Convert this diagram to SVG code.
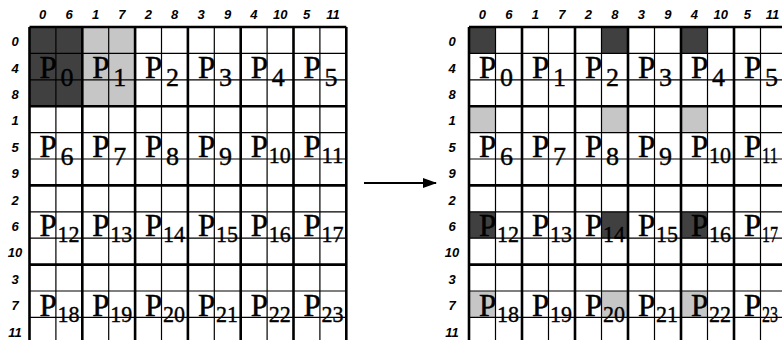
<svg xmlns="http://www.w3.org/2000/svg" width="782" height="340" viewBox="0 0 782 340">
<defs>
<style>
.thin{stroke:#000;stroke-width:1.2;fill:none}
.thick{stroke:#000;stroke-width:2.6;fill:none}
.lab{font-family:"Liberation Sans",Arial,sans-serif;font-weight:bold;font-style:italic;font-size:13px;text-anchor:middle;fill:#000}
.p{font-family:"Liberation Serif","Times New Roman",serif;font-size:31px;fill:#000;stroke:#000;stroke-width:0.5}
.s{font-family:"Liberation Serif","Times New Roman",serif;font-size:26px;fill:#000;stroke:#000;stroke-width:0.4}
.s2{font-family:"Liberation Serif","Times New Roman",serif;font-size:24px;fill:#000;stroke:#000;stroke-width:0.4}
.dark{fill:#404040}
.light{fill:#c6c6c6}
</style>
<marker id="ah" markerWidth="14" markerHeight="10" refX="13" refY="5" orient="auto" markerUnits="userSpaceOnUse">
<path d="M0,0 L14,5 L0,10 Z" fill="#000"/>
</marker>
</defs>
<rect width="782" height="340" fill="#fff"/>

<!-- Left grid -->
<g id="left-grid">
<rect class="dark" x="29.5" y="27" width="52.8" height="79.2"/>
<rect class="light" x="82.3" y="27" width="52.8" height="79.2"/>
<path class="thin" d="M55.9,27V340M108.7,27V340M161.5,27V340M214.3,27V340M267.1,27V340M319.9,27V340M29.5,53.4H346.3M29.5,79.8H346.3M29.5,132.6H346.3M29.5,159H346.3M29.5,211.8H346.3M29.5,238.2H346.3M29.5,291H346.3M29.5,317.4H346.3"/>
<path class="thick" d="M29.5,27V340M82.3,27V340M135.1,27V340M187.9,27V340M240.7,27V340M293.5,27V340M346.3,27V340M29.5,27H346.3M29.5,106.2H346.3M29.5,185.4H346.3M29.5,264.6H346.3"/>
<g id="left-col-labels">
<text class="lab" x="42.7" y="19">0</text><text class="lab" x="69.1" y="19">6</text><text class="lab" x="95.5" y="19">1</text><text class="lab" x="121.9" y="19">7</text><text class="lab" x="148.3" y="19">2</text><text class="lab" x="174.7" y="19">8</text><text class="lab" x="201.1" y="19">3</text><text class="lab" x="227.5" y="19">9</text><text class="lab" x="253.9" y="19">4</text><text class="lab" x="280.3" y="19">10</text><text class="lab" x="306.7" y="19">5</text><text class="lab" x="333.1" y="19">11</text>
</g>
<g id="left-row-labels">
<text class="lab" x="15" y="46.2">0</text><text class="lab" x="15" y="72.6">4</text><text class="lab" x="15" y="99">8</text><text class="lab" x="15" y="125.4">1</text><text class="lab" x="15" y="151.8">5</text><text class="lab" x="15" y="178.2">9</text><text class="lab" x="15" y="204.6">2</text><text class="lab" x="15" y="231">6</text><text class="lab" x="15" y="257.4">10</text><text class="lab" x="15" y="283.8">3</text><text class="lab" x="15" y="310.2">7</text><text class="lab" x="15" y="336.6">11</text>
</g>
<g id="L-P0"><text class="p" x="39.5" y="78">P</text><text class="s" x="60.5" y="86">0</text></g>
<g id="L-P1"><text class="p" x="92.3" y="78">P</text><text class="s" x="113.3" y="86">1</text></g>
<g id="L-P2"><text class="p" x="145.1" y="78">P</text><text class="s" x="166.1" y="86">2</text></g>
<g id="L-P3"><text class="p" x="197.9" y="78">P</text><text class="s" x="218.9" y="86">3</text></g>
<g id="L-P4"><text class="p" x="250.7" y="78">P</text><text class="s" x="271.7" y="86">4</text></g>
<g id="L-P5"><text class="p" x="303.5" y="78">P</text><text class="s" x="324.5" y="86">5</text></g>
<g id="L-P6"><text class="p" x="39.5" y="157.2">P</text><text class="s" x="60.5" y="165.2">6</text></g>
<g id="L-P7"><text class="p" x="92.3" y="157.2">P</text><text class="s" x="113.3" y="165.2">7</text></g>
<g id="L-P8"><text class="p" x="145.1" y="157.2">P</text><text class="s" x="166.1" y="165.2">8</text></g>
<g id="L-P9"><text class="p" x="197.9" y="157.2">P</text><text class="s" x="218.9" y="165.2">9</text></g>
<g id="L-P10"><text class="p" x="250.7" y="157.2">P</text><text class="s2" x="268.7" y="163.2" textLength="22" lengthAdjust="spacingAndGlyphs">10</text></g>
<g id="L-P11"><text class="p" x="303.5" y="157.2">P</text><text class="s2" x="321.5" y="163.2" textLength="22" lengthAdjust="spacingAndGlyphs">11</text></g>
<g id="L-P12"><text class="p" x="39.5" y="236.4">P</text><text class="s2" x="57.5" y="242.4" textLength="22" lengthAdjust="spacingAndGlyphs">12</text></g>
<g id="L-P13"><text class="p" x="92.3" y="236.4">P</text><text class="s2" x="110.3" y="242.4" textLength="22" lengthAdjust="spacingAndGlyphs">13</text></g>
<g id="L-P14"><text class="p" x="145.1" y="236.4">P</text><text class="s2" x="163.1" y="242.4" textLength="22" lengthAdjust="spacingAndGlyphs">14</text></g>
<g id="L-P15"><text class="p" x="197.9" y="236.4">P</text><text class="s2" x="215.9" y="242.4" textLength="22" lengthAdjust="spacingAndGlyphs">15</text></g>
<g id="L-P16"><text class="p" x="250.7" y="236.4">P</text><text class="s2" x="268.7" y="242.4" textLength="22" lengthAdjust="spacingAndGlyphs">16</text></g>
<g id="L-P17"><text class="p" x="303.5" y="236.4">P</text><text class="s2" x="321.5" y="242.4" textLength="22" lengthAdjust="spacingAndGlyphs">17</text></g>
<g id="L-P18"><text class="p" x="39.5" y="315.6">P</text><text class="s2" x="57.5" y="321.6" textLength="22" lengthAdjust="spacingAndGlyphs">18</text></g>
<g id="L-P19"><text class="p" x="92.3" y="315.6">P</text><text class="s2" x="110.3" y="321.6" textLength="22" lengthAdjust="spacingAndGlyphs">19</text></g>
<g id="L-P20"><text class="p" x="145.1" y="315.6">P</text><text class="s2" x="163.1" y="321.6" textLength="22" lengthAdjust="spacingAndGlyphs">20</text></g>
<g id="L-P21"><text class="p" x="197.9" y="315.6">P</text><text class="s2" x="215.9" y="321.6" textLength="22" lengthAdjust="spacingAndGlyphs">21</text></g>
<g id="L-P22"><text class="p" x="250.7" y="315.6">P</text><text class="s2" x="268.7" y="321.6" textLength="22" lengthAdjust="spacingAndGlyphs">22</text></g>
<g id="L-P23"><text class="p" x="303.5" y="315.6">P</text><text class="s2" x="321.5" y="321.6" textLength="22" lengthAdjust="spacingAndGlyphs">23</text></g>
</g>

<!-- Connector -->
<g id="connectors">
<line x1="364" y1="183" x2="436" y2="183" stroke="#000" stroke-width="2" marker-end="url(#ah)"/>
</g>

<!-- Right grid -->
<g id="right-grid">
<rect class="dark" x="469" y="27" width="26.5" height="26.4"/>
<rect class="dark" x="601.5" y="27" width="26.5" height="26.4"/>
<rect class="dark" x="681" y="27" width="26.5" height="26.4"/>
<rect class="light" x="469" y="106.2" width="26.5" height="26.4"/>
<rect class="light" x="601.5" y="106.2" width="26.5" height="26.4"/>
<rect class="light" x="681" y="106.2" width="26.5" height="26.4"/>
<rect class="dark" x="469" y="211.8" width="26.5" height="26.4"/>
<rect class="dark" x="601.5" y="211.8" width="26.5" height="26.4"/>
<rect class="dark" x="681" y="211.8" width="26.5" height="26.4"/>
<rect class="light" x="469" y="291" width="26.5" height="26.4"/>
<rect class="light" x="601.5" y="291" width="26.5" height="26.4"/>
<rect class="light" x="681" y="291" width="26.5" height="26.4"/>
<path class="thin" d="M495.5,27V340M548.5,27V340M601.5,27V340M654.5,27V340M707.5,27V340M760.5,27V340M469,53.4H787M469,79.8H787M469,132.6H787M469,159H787M469,211.8H787M469,238.2H787M469,291H787M469,317.4H787"/>
<path class="thick" d="M469,27V340M522,27V340M575,27V340M628,27V340M681,27V340M734,27V340M469,27H787M469,106.2H787M469,185.4H787M469,264.6H787"/>
<g id="right-col-labels">
<text class="lab" x="482.25" y="19">0</text><text class="lab" x="508.75" y="19">6</text><text class="lab" x="535.25" y="19">1</text><text class="lab" x="561.75" y="19">7</text><text class="lab" x="588.25" y="19">2</text><text class="lab" x="614.75" y="19">8</text><text class="lab" x="641.25" y="19">3</text><text class="lab" x="667.75" y="19">9</text><text class="lab" x="694.25" y="19">4</text><text class="lab" x="720.75" y="19">10</text><text class="lab" x="747.25" y="19">5</text><text class="lab" x="772.5" y="19">11</text>
</g>
<g id="right-row-labels">
<text class="lab" x="452" y="46.2">0</text><text class="lab" x="452" y="72.6">4</text><text class="lab" x="452" y="99">8</text><text class="lab" x="452" y="125.4">1</text><text class="lab" x="452" y="151.8">5</text><text class="lab" x="452" y="178.2">9</text><text class="lab" x="452" y="204.6">2</text><text class="lab" x="452" y="231">6</text><text class="lab" x="452" y="257.4">10</text><text class="lab" x="452" y="283.8">3</text><text class="lab" x="452" y="310.2">7</text><text class="lab" x="452" y="336.6">11</text>
</g>
<g id="R-P0"><text class="p" x="479" y="78">P</text><text class="s" x="500" y="86">0</text></g>
<g id="R-P1"><text class="p" x="532" y="78">P</text><text class="s" x="553" y="86">1</text></g>
<g id="R-P2"><text class="p" x="585" y="78">P</text><text class="s" x="606" y="86">2</text></g>
<g id="R-P3"><text class="p" x="638" y="78">P</text><text class="s" x="659" y="86">3</text></g>
<g id="R-P4"><text class="p" x="691" y="78">P</text><text class="s" x="712" y="86">4</text></g>
<g id="R-P5"><text class="p" x="744" y="78">P</text><text class="s" x="765" y="86">5</text></g>
<g id="R-P6"><text class="p" x="479" y="157.2">P</text><text class="s" x="500" y="165.2">6</text></g>
<g id="R-P7"><text class="p" x="532" y="157.2">P</text><text class="s" x="553" y="165.2">7</text></g>
<g id="R-P8"><text class="p" x="585" y="157.2">P</text><text class="s" x="606" y="165.2">8</text></g>
<g id="R-P9"><text class="p" x="638" y="157.2">P</text><text class="s" x="659" y="165.2">9</text></g>
<g id="R-P10"><text class="p" x="691" y="157.2">P</text><text class="s2" x="709" y="163.2" textLength="22" lengthAdjust="spacingAndGlyphs">10</text></g>
<g id="R-P11"><text class="p" x="744" y="157.2">P</text><text class="s2" x="762" y="163.2" textLength="16" lengthAdjust="spacingAndGlyphs">11</text></g>
<g id="R-P12"><text class="p" x="479" y="236.4">P</text><text class="s2" x="497" y="242.4" textLength="22" lengthAdjust="spacingAndGlyphs">12</text></g>
<g id="R-P13"><text class="p" x="532" y="236.4">P</text><text class="s2" x="550" y="242.4" textLength="22" lengthAdjust="spacingAndGlyphs">13</text></g>
<g id="R-P14"><text class="p" x="585" y="236.4">P</text><text class="s2" x="603" y="242.4" textLength="22" lengthAdjust="spacingAndGlyphs">14</text></g>
<g id="R-P15"><text class="p" x="638" y="236.4">P</text><text class="s2" x="656" y="242.4" textLength="22" lengthAdjust="spacingAndGlyphs">15</text></g>
<g id="R-P16"><text class="p" x="691" y="236.4">P</text><text class="s2" x="709" y="242.4" textLength="22" lengthAdjust="spacingAndGlyphs">16</text></g>
<g id="R-P17"><text class="p" x="744" y="236.4">P</text><text class="s2" x="762" y="242.4" textLength="16" lengthAdjust="spacingAndGlyphs">17</text></g>
<g id="R-P18"><text class="p" x="479" y="315.6">P</text><text class="s2" x="497" y="321.6" textLength="22" lengthAdjust="spacingAndGlyphs">18</text></g>
<g id="R-P19"><text class="p" x="532" y="315.6">P</text><text class="s2" x="550" y="321.6" textLength="22" lengthAdjust="spacingAndGlyphs">19</text></g>
<g id="R-P20"><text class="p" x="585" y="315.6">P</text><text class="s2" x="603" y="321.6" textLength="22" lengthAdjust="spacingAndGlyphs">20</text></g>
<g id="R-P21"><text class="p" x="638" y="315.6">P</text><text class="s2" x="656" y="321.6" textLength="22" lengthAdjust="spacingAndGlyphs">21</text></g>
<g id="R-P22"><text class="p" x="691" y="315.6">P</text><text class="s2" x="709" y="321.6" textLength="22" lengthAdjust="spacingAndGlyphs">22</text></g>
<g id="R-P23"><text class="p" x="744" y="315.6">P</text><text class="s2" x="762" y="321.6" textLength="16" lengthAdjust="spacingAndGlyphs">23</text></g>
</g>
</svg>
